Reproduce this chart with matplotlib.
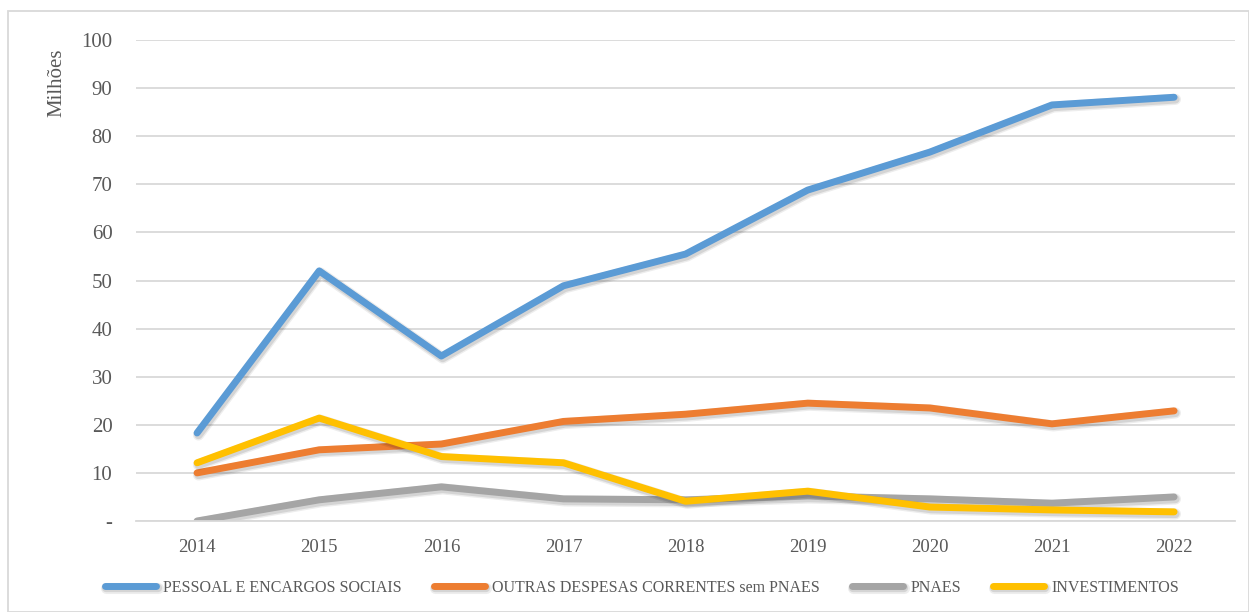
import matplotlib.pyplot as plt
import matplotlib.patheffects as pe
from matplotlib.patches import Rectangle

plt.rcParams['font.family'] = ['Liberation Serif', 'DejaVu Serif']

anos = ['2014', '2015', '2016', '2017', '2018', '2019', '2020', '2021', '2022']
pessoal = [18.3, 52.0, 34.3, 48.9, 55.5, 68.8, 76.7, 86.5, 88.1]
outras = [10.0, 14.8, 16.0, 20.7, 22.2, 24.5, 23.5, 20.2, 22.9]
pnaes = [0.0, 4.4, 7.1, 4.6, 4.4, 5.2, 4.6, 3.7, 5.0]
invest = [12.1, 21.4, 13.4, 12.1, 4.1, 6.2, 2.9, 2.3, 1.9]

series = [
    ('PESSOAL E ENCARGOS SOCIAIS', pessoal, '#5B9BD5'),
    ('OUTRAS DESPESAS CORRENTES sem PNAES', outras, '#ED7D31'),
    ('PNAES', pnaes, '#A5A5A5'),
    ('INVESTIMENTOS', invest, '#FFC000'),
]

yticks = list(range(0, 101, 10))
ylabels = ['-'] + [str(v) for v in yticks[1:]]

fig = plt.figure(figsize=(12.49, 6.12), dpi=100)
ax = fig.add_axes([0.1089, 0.1487, 0.88, 0.7859])

x = list(range(len(anos)))
# sombra suave tipo Excel
sombra = [pe.SimpleLineShadow(offset=(1, -1.5), shadow_color='black', alpha=0.07, linewidth=8),
          pe.SimpleLineShadow(offset=(1, -1.5), shadow_color='black', alpha=0.10, linewidth=6),
          pe.Normal()]
for nome, vals, cor in series:
    ax.plot(x, vals, color=cor, lw=5, label=nome, solid_capstyle='round',
            solid_joinstyle='round', path_effects=sombra)

ax.set_xlim(-0.5, len(anos) - 0.5)
ax.set_ylim(0, 100)
ax.set_xticks(x)
ax.set_xticklabels(anos)
ax.set_yticks(yticks)
ax.set_yticklabels(ylabels)
ax.tick_params(axis='x', length=0, pad=13, labelsize=13.5, labelcolor='#595959')
ax.tick_params(axis='y', length=0, pad=17, labelsize=15, labelcolor='#595959')
ax.grid(axis='y', color='#D9D9D9', lw=1.3)
ax.set_axisbelow(True)
for s in ['top', 'right', 'left']:
    ax.spines[s].set_visible(False)
ax.spines['bottom'].set_color('#D9D9D9')
ax.spines['bottom'].set_linewidth(1.3)

fig.text(57 / 1249, 1 - 83 / 612, 'Milhões', rotation=90, ha='center', va='center',
         fontsize=15, color='#595959')

leg = fig.legend(loc='center', bbox_to_anchor=(0.514, 0.040), ncol=4, frameon=False,
                 fontsize=11.5, handlelength=3.2, handletextpad=0.45, columnspacing=2.0)
for t in leg.get_texts():
    t.set_color('#595959')
for h in leg.get_lines():
    h.set_linewidth(5)
    h.set_solid_capstyle('round')

fig.patches.append(Rectangle((8 / 1249, 0), 1 - 8 / 1249, 1 - 11 / 612, transform=fig.transFigure,
                             fill=False, edgecolor='#D9D9D9', lw=1.3))

fig.savefig('out.png', dpi=100)
